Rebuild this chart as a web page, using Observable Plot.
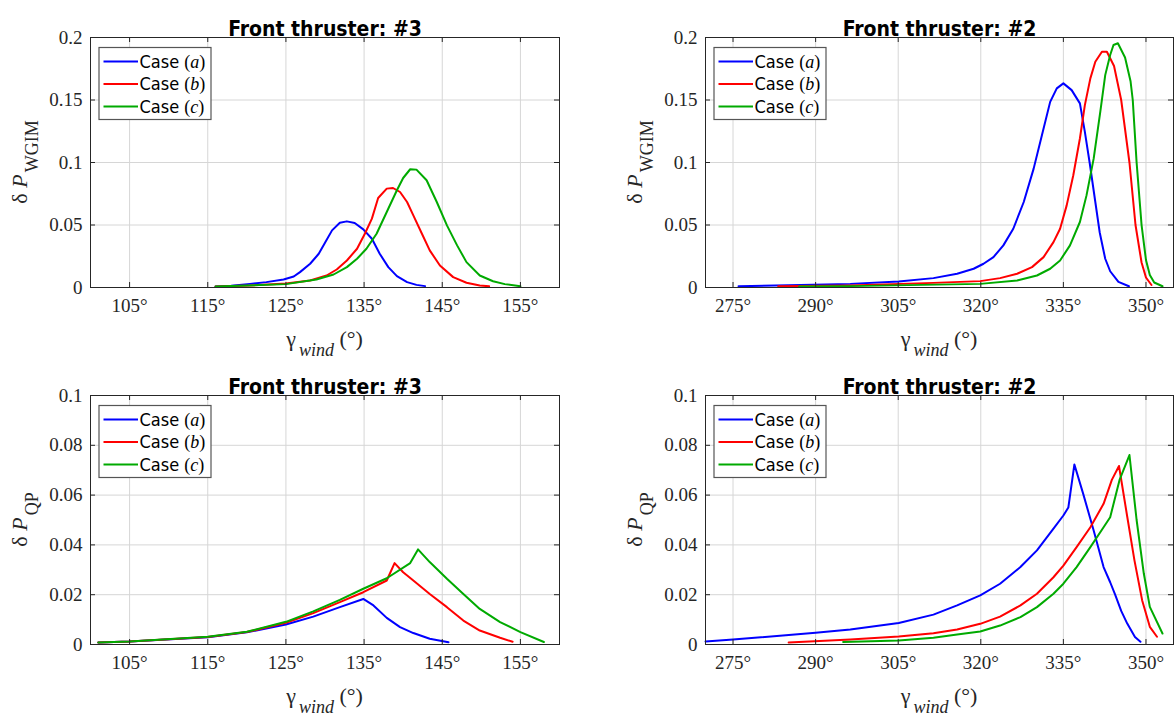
<!DOCTYPE html>
<html>
<head>
<meta charset="utf-8">
<script src="https://cdn.jsdelivr.net/npm/d3@7"></script>
<script src="https://cdn.jsdelivr.net/npm/@observablehq/plot@0.6"></script>
<style>
  html, body { margin: 0; padding: 0; background: #fff; }
  #root { position: relative; width: 1174px; height: 717px; background: #fff; overflow: hidden; }
  #root > div { position: absolute; }
  svg { display: block; }
</style>
</head>
<body>
<div id="root"></div>
<script>
// ---------- data ----------
const cases = ["a", "b", "c"];
const caseColors = ["#0000ff", "#ff0000", "#00aa00"];
const titles = ["Front thruster: #3", "Front thruster: #2", "Front thruster: #3", "Front thruster: #2"];
const yLabelSubs = ["WGIM", "WGIM", "QP", "QP"];
const xTicksT3 = [105, 115, 125, 135, 145, 155];
const xTicksT2 = [275, 290, 305, 320, 335, 350];
const yTicksWGIM = [0, 0.05, 0.1, 0.15, 0.2];
const yTicksQP = [0, 0.02, 0.04, 0.06, 0.08, 0.1];

// Panel 1: WGIM, thruster #3
const wgim3_a_x = [116, 118, 120.4, 122.5, 124.7, 126, 126.8, 128.1, 129.2, 130, 130.9, 131.9, 132.8, 133.8, 134.9, 136, 137, 138.1, 139.2, 140.5, 141.7, 142.8];
const wgim3_a_y = [0.0008, 0.0015, 0.0029, 0.0043, 0.0064, 0.0088, 0.0123, 0.0190, 0.0270, 0.0358, 0.0457, 0.0518, 0.0529, 0.0516, 0.0465, 0.0390, 0.0270, 0.0163, 0.0091, 0.0043, 0.0021, 0.0011];
const wgim3_b_x = [116, 120.4, 125, 128.1, 130.2, 131.5, 132.8, 134.1, 135.1, 136, 136.8, 137.9, 138.7, 139.6, 140.5, 141.3, 142.4, 143.4, 144.7, 146.4, 148.1, 149.8, 151];
const wgim3_b_y = [0.0008, 0.0016, 0.0032, 0.0056, 0.0096, 0.0144, 0.0216, 0.0310, 0.0430, 0.0551, 0.0716, 0.0791, 0.0796, 0.0764, 0.0684, 0.0577, 0.0430, 0.0297, 0.0176, 0.0083, 0.0038, 0.0016, 0.0010];
const wgim3_c_x = [116, 125, 128.9, 131.1, 132.8, 134.1, 135.3, 136.6, 137.9, 139.2, 140, 140.9, 141.7, 143, 144.3, 145.6, 146.9, 148.1, 149.8, 151.5, 153, 155];
const wgim3_c_y = [0.0008, 0.0027, 0.0064, 0.0104, 0.0163, 0.0230, 0.0310, 0.0430, 0.0604, 0.0778, 0.0876, 0.0946, 0.0943, 0.0858, 0.0684, 0.0497, 0.0337, 0.0203, 0.0096, 0.0050, 0.0027, 0.0010];

// Panel 2: WGIM, thruster #2
const wgim2_a_x = [276, 285, 296.3, 305.1, 311.4, 315.7, 318.7, 320.5, 322.3, 324.1, 325.9, 327.8, 329.6, 331.1, 332.6, 333.8, 335, 336.5, 338, 338.9, 339.8, 340.8, 341.6, 342.6, 343.5, 345, 346.9];
const wgim2_a_y = [0.0010, 0.0018, 0.0029, 0.0048, 0.0075, 0.0110, 0.0150, 0.0190, 0.0243, 0.0337, 0.0470, 0.0684, 0.0951, 0.1218, 0.1485, 0.1593, 0.1633, 0.1579, 0.1473, 0.1245, 0.0990, 0.0684, 0.0440, 0.0230, 0.0130, 0.0045, 0.0010];
const wgim2_b_x = [283.2, 296.3, 311.4, 319.9, 323.5, 326.6, 329.3, 331.4, 333.2, 334.4, 335.6, 336.8, 338, 338.9, 339.9, 340.8, 342, 342.9, 344.2, 345.5, 347, 348.1, 349.2, 350, 351];
const wgim2_b_y = [0.0010, 0.0016, 0.0037, 0.0051, 0.0075, 0.0110, 0.0163, 0.0243, 0.0363, 0.0470, 0.0657, 0.0898, 0.1192, 0.1459, 0.1673, 0.1806, 0.1886, 0.1886, 0.1772, 0.1500, 0.1000, 0.0500, 0.0200, 0.0080, 0.0020];
const wgim2_c_x = [287, 296.3, 319.9, 326.6, 330.2, 332.6, 334.4, 336.2, 338, 339.2, 340.5, 341.7, 342.6, 343.5, 344.1, 344.9, 346.2, 347.2, 347.6, 348.3, 349.2, 350, 350.7, 351.5, 353];
const wgim2_c_y = [0.0008, 0.0011, 0.0029, 0.0056, 0.0096, 0.0150, 0.0216, 0.0337, 0.0524, 0.0737, 0.1031, 0.1405, 0.1699, 0.1860, 0.1940, 0.1954, 0.1840, 0.1650, 0.1500, 0.1000, 0.0500, 0.0220, 0.0100, 0.0040, 0.0010];

// Panel 3: QP, thruster #3
const qp3_a_x = [101, 105, 115, 120, 125, 128.5, 131.9, 134.9, 136.2, 137.9, 139.6, 141.3, 143.4, 145.8];
const qp3_a_y = [0.0008, 0.0012, 0.0029, 0.0049, 0.0080, 0.0112, 0.0150, 0.0183, 0.0157, 0.0107, 0.0070, 0.0046, 0.0023, 0.0009];
const qp3_b_x = [101, 105, 115, 120, 125, 128.5, 131.9, 134.9, 137.9, 138.9, 140, 141.3, 143.4, 145.6, 147.7, 149.8, 152.4, 154];
const qp3_b_y = [0.0008, 0.0012, 0.0030, 0.0050, 0.0087, 0.0126, 0.0170, 0.0210, 0.0257, 0.0327, 0.0290, 0.0257, 0.0203, 0.0150, 0.0096, 0.0056, 0.0027, 0.0011];
const qp3_c_x = [101, 105, 115, 120, 125, 128.5, 131.9, 134.9, 137.9, 140.9, 141.9, 143.4, 145.6, 147.7, 149.8, 152.4, 155, 158];
const qp3_c_y = [0.0008, 0.0012, 0.0031, 0.0051, 0.0091, 0.0133, 0.0179, 0.0224, 0.0266, 0.0327, 0.0382, 0.0331, 0.0264, 0.0203, 0.0143, 0.0090, 0.0050, 0.0010];

// Panel 4: QP, thruster #2
const qp2_a_x = [270, 275, 290, 296.3, 305.1, 311.4, 315.7, 319.9, 323.5, 327.2, 330.2, 333.2, 335, 335.9, 337, 338.6, 340.5, 342.3, 343.5, 344.4, 345.5, 346.6, 348, 349];
const qp2_a_y = [0.0012, 0.0020, 0.0047, 0.0060, 0.0086, 0.0120, 0.0157, 0.0197, 0.0244, 0.0311, 0.0378, 0.0465, 0.0518, 0.0550, 0.0723, 0.0605, 0.0458, 0.0311, 0.0250, 0.0200, 0.0135, 0.0084, 0.0030, 0.0011];
const qp2_b_x = [285.1, 296.3, 305.1, 311.4, 315.7, 319.9, 323.5, 327.2, 330.2, 333.2, 335, 337.4, 339.9, 342.3, 343.8, 345.1, 346.6, 347.9, 349.3, 350.7, 352];
const qp2_b_y = [0.0008, 0.0020, 0.0032, 0.0045, 0.0060, 0.0083, 0.0112, 0.0157, 0.0204, 0.0270, 0.0317, 0.0391, 0.0471, 0.0565, 0.0661, 0.0717, 0.0513, 0.0339, 0.0178, 0.0071, 0.0031];
const qp2_c_x = [295, 305.1, 311.4, 315.7, 319.9, 323.5, 327.2, 330.2, 333.2, 335, 337.4, 339.9, 342.3, 343.5, 345.2, 347, 348.3, 349.6, 350.7, 353];
const qp2_c_y = [0.0010, 0.0016, 0.0027, 0.0040, 0.0052, 0.0076, 0.0110, 0.0150, 0.0204, 0.0244, 0.0311, 0.0391, 0.0471, 0.0511, 0.0661, 0.0761, 0.0500, 0.0286, 0.0151, 0.0044];

// ---------- build ----------
const serif = "'Liberation Serif', 'DejaVu Serif', serif";
const sans = "'Liberation Sans Narrow', 'DejaVu Sans Condensed', 'Roboto', sans-serif";
const ink = "#262626";

function rows(xs, ys, c) { return xs.map((x, i) => ({angle: x, value: ys[i], kase: c})); }

const panels = [
  {left: 0,   top: 0,   h: 358, mT: 37, mB: 71, mL: 90,  mR: 28, xDomain: [100, 160], xTicks: xTicksT3, yDomain: [0, 0.2], yTicks: yTicksWGIM,
   data: [...rows(wgim3_a_x, wgim3_a_y, "a"), ...rows(wgim3_b_x, wgim3_b_y, "b"), ...rows(wgim3_c_x, wgim3_c_y, "c")]},
  {left: 587, top: 0,   h: 358, mT: 37, mB: 71, mL: 118, mR: 1,  xDomain: [270, 355], xTicks: xTicksT2, yDomain: [0, 0.2], yTicks: yTicksWGIM,
   data: [...rows(wgim2_a_x, wgim2_a_y, "a"), ...rows(wgim2_b_x, wgim2_b_y, "b"), ...rows(wgim2_c_x, wgim2_c_y, "c")]},
  {left: 0,   top: 358, h: 359, mT: 37, mB: 73, mL: 90,  mR: 28, xDomain: [100, 160], xTicks: xTicksT3, yDomain: [0, 0.1], yTicks: yTicksQP,
   data: [...rows(qp3_a_x, qp3_a_y, "a"), ...rows(qp3_b_x, qp3_b_y, "b"), ...rows(qp3_c_x, qp3_c_y, "c")]},
  {left: 587, top: 358, h: 359, mT: 37, mB: 73, mL: 118, mR: 1,  xDomain: [270, 355], xTicks: xTicksT2, yDomain: [0, 0.1], yTicks: yTicksQP,
   data: [...rows(qp2_a_x, qp2_a_y, "a"), ...rows(qp2_b_x, qp2_b_y, "b"), ...rows(qp2_c_x, qp2_c_y, "c")]}
];

const root = document.getElementById("root");

panels.forEach((p, idx) => {
  const W = 587;
  const innerW = W - p.mL - p.mR;
  const innerH = p.h - p.mT - p.mB;
  const tl = 5;
  const chart = Plot.plot({
    width: W, height: p.h,
    marginLeft: p.mL, marginRight: p.mR, marginTop: p.mT, marginBottom: p.mB,
    x: {domain: p.xDomain},
    y: {domain: p.yDomain},
    color: {domain: cases, range: caseColors},
    style: {fontFamily: serif, fontSize: "19px", color: ink, background: "white", overflow: "visible"},
    marks: [
      Plot.gridX(p.xTicks, {stroke: "#d6d6d6", strokeOpacity: 1}),
      Plot.gridY(p.yTicks, {stroke: "#d6d6d6", strokeOpacity: 1}),
      Plot.line(p.data, {x: "angle", y: "value", z: "kase", stroke: "kase", strokeWidth: 2, curve: "linear"}),
      Plot.frame({stroke: ink, strokeWidth: 1}),
      Plot.tickX(p.xTicks, {x: d => d, insetTop: innerH - tl, stroke: ink}),
      Plot.tickX(p.xTicks, {x: d => d, insetBottom: innerH - tl, stroke: ink}),
      Plot.tickY(p.yTicks, {y: d => d, insetRight: innerW - tl, stroke: ink}),
      Plot.tickY(p.yTicks, {y: d => d, insetLeft: innerW - tl, stroke: ink}),
      Plot.axisX(p.xTicks, {tickSize: 0, tickPadding: 11, tickFormat: d => d + "°", label: null, fontSize: 19, fontFamily: serif, fill: ink}),
      Plot.axisY(p.yTicks, {tickSize: 0, tickPadding: 8, tickFormat: d => String(d), label: null, fontSize: 19, fontFamily: serif, fill: ink}),
      Plot.text([titles[idx]], {frameAnchor: "top", dy: -16, fontWeight: "bold", fontSize: 21, fontFamily: sans, fill: "#000"})
    ]
  });

  const svg = d3.select(chart);
  const fx = p.mL, fy = p.mT, fb = p.mT + innerH;

  // y axis label
  const yl = svg.append("text")
    .attr("transform", `translate(${fx - 63},${fy + innerH / 2}) rotate(-90)`)
    .attr("text-anchor", "middle").attr("fill", ink).attr("font-family", serif).attr("font-size", 22);
  yl.append("tspan").text("δ ");
  yl.append("tspan").attr("font-style", "italic").text("P");
  yl.append("tspan").attr("font-size", 18).attr("dy", 11).attr("dx", 2).text(yLabelSubs[idx]);

  // x axis label
  const xl = svg.append("text")
    .attr("transform", `translate(${fx + innerW / 2},${fb + 59})`)
    .attr("text-anchor", "middle").attr("fill", ink).attr("font-family", serif).attr("font-size", 22);
  xl.append("tspan").text("γ");
  xl.append("tspan").attr("font-style", "italic").attr("font-size", 18).attr("dy", 10).attr("dx", 3).text("wind");
  xl.append("tspan").attr("dy", -10).text(" (°)");

  // legend
  const lg = svg.append("g").attr("transform", `translate(${fx + 9},${fy + 10.5})`);
  lg.append("rect").attr("width", 112).attr("height", 72).attr("fill", "#fff").attr("stroke", "#555").attr("stroke-width", 1.2);
  cases.forEach((c, i) => {
    const yy = 14 + i * 22.5;
    lg.append("line").attr("x1", 4.5).attr("x2", 39).attr("y1", yy).attr("y2", yy)
      .attr("stroke", caseColors[i]).attr("stroke-width", 2);
    const t = lg.append("text").attr("x", 40.5).attr("y", yy).attr("dy", "0.35em")
      .attr("text-anchor", "start")
      .attr("font-size", 18).attr("fill", "#000").attr("font-family", sans);
    t.append("tspan").text("Case ");
    t.append("tspan").attr("font-family", serif).text("(");
    t.append("tspan").attr("font-family", serif).attr("font-style", "italic").text(c);
    t.append("tspan").attr("font-family", serif).text(")");
  });

  const holder = document.createElement("div");
  holder.style.left = p.left + "px";
  holder.style.top = p.top + "px";
  holder.appendChild(chart);
  root.appendChild(holder);
});
</script>
</body>
</html>
